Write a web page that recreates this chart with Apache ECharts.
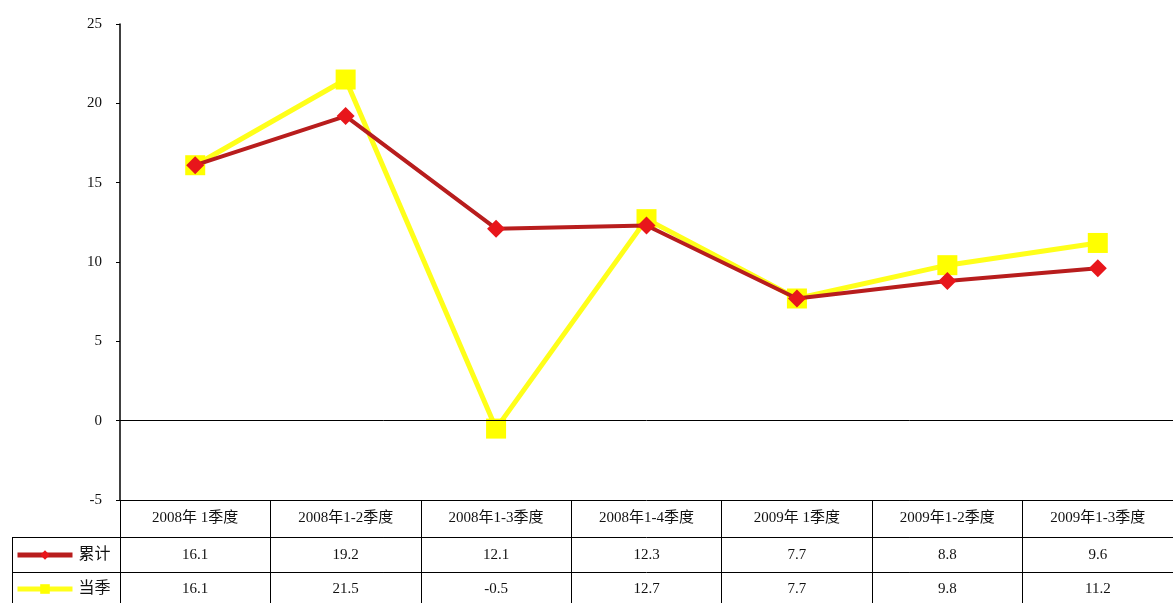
<!DOCTYPE html>
<html>
<head>
<meta charset="utf-8">
<script src="https://cdn.jsdelivr.net/npm/echarts@6/dist/echarts.min.js"></script>
<style>html,body{margin:0;padding:0;background:#fff;}#c{width:1173px;height:603px;}</style>
</head>
<body>
<div id="c"></div>
<script>
var categories = ['2008年 1季度', '2008年1-2季度', '2008年1-3季度', '2008年1-4季度', '2009年 1季度', '2009年1-2季度', '2009年1-3季度'];
var cumulative = [16.1, 19.2, 12.1, 12.3, 7.7, 8.8, 9.6];
var quarterly = [16.1, 21.5, -0.5, 12.7, 7.7, 9.8, 11.2];
var seriesNames = ['累计', '当季'];
var yTicks = { min: -5, max: 25, interval: 5 };

var FONT = '"Liberation Serif", "DejaVu Serif", "Noto Sans CJK SC", serif';
var chart = echarts.init(document.getElementById('c'), null, { renderer: 'canvas' });

function fmtVal(arr) {
  return function (v, i) { return arr[i].toFixed(1); };
}
function legendAt(name, top) {
  return {
    orient: 'horizontal', left: 15, top: top, padding: 0,
    itemWidth: 55, itemHeight: 12, itemGap: 0,
    lineStyle: { width: 5 },
    textStyle: { fontFamily: FONT, fontSize: 16, color: '#111', padding: [0, 0, 0, 1] },
    data: [name]
  };
}

var option = {
  animation: false,
  backgroundColor: '#fff',
  grid: { left: 120, right: 0, top: 24, bottom: 103, containLabel: false },
  legend: [legendAt(seriesNames[0], 547), legendAt(seriesNames[1], 581)],
  xAxis: [
    {
      type: 'category', data: categories, position: 'bottom', gridIndex: 0,
      boundaryGap: true,
      axisLine: { show: true, onZero: false, lineStyle: { color: '#000', width: 1 } },
      axisTick: { show: true, alignWithLabel: false, length: 103, lineStyle: { color: '#000', width: 1 } },
      axisLabel: { fontFamily: FONT, fontSize: 15, color: '#111', margin: 18, verticalAlign: 'middle', interval: 0 }
    },
    {
      type: 'category', data: categories, position: 'bottom', gridIndex: 0, offset: 37,
      axisLine: { show: true, onZero: false, lineStyle: { color: '#000', width: 1 } },
      axisTick: { show: false },
      axisLabel: { fontFamily: FONT, fontSize: 15, color: '#111', margin: 18, verticalAlign: 'middle', interval: 0, formatter: fmtVal(cumulative) }
    },
    {
      type: 'category', data: categories, position: 'bottom', gridIndex: 0, offset: 72,
      axisLine: { show: true, onZero: false, lineStyle: { color: '#000', width: 1 } },
      axisTick: { show: false },
      axisLabel: { fontFamily: FONT, fontSize: 15, color: '#111', margin: 17, verticalAlign: 'middle', interval: 0, formatter: fmtVal(quarterly) }
    }
  ],
  yAxis: {
    type: 'value', min: yTicks.min, max: yTicks.max, interval: yTicks.interval,
    axisLine: { show: true, lineStyle: { color: '#000', width: 1.5 } },
    axisTick: { show: true, inside: false, length: 4, lineStyle: { color: '#000' } },
    splitLine: { show: false },
    axisLabel: { fontFamily: FONT, fontSize: 15, color: '#111', margin: 18 }
  },
  series: [
    {
      name: seriesNames[1], type: 'line', data: quarterly, xAxisIndex: 0,
      symbol: 'rect', symbolSize: 20,
      lineStyle: { color: '#FFFF1A', width: 5 },
      itemStyle: { color: '#FFFF00' },
      z: 2,
      markLine: {
        silent: true, symbol: 'none', animation: false,
        label: { show: false },
        lineStyle: { color: '#000', width: 1, type: 'solid' },
        data: [{ yAxis: 0 }]
      }
    },
    {
      name: seriesNames[0], type: 'line', data: cumulative, xAxisIndex: 0,
      symbol: 'diamond', symbolSize: 18,
      lineStyle: { color: '#B81D1D', width: 4 },
      itemStyle: { color: '#E8161B' },
      z: 3
    }
  ],
  graphic: [
    { type: 'line', shape: { x1: 12, y1: 537.5, x2: 120, y2: 537.5 }, style: { stroke: '#000', lineWidth: 1 } },
    { type: 'line', shape: { x1: 12, y1: 572.5, x2: 120, y2: 572.5 }, style: { stroke: '#000', lineWidth: 1 } },
    { type: 'line', shape: { x1: 12.5, y1: 537, x2: 12.5, y2: 603 }, style: { stroke: '#000', lineWidth: 1 } }
  ]
};
chart.setOption(option);
</script>
</body>
</html>
